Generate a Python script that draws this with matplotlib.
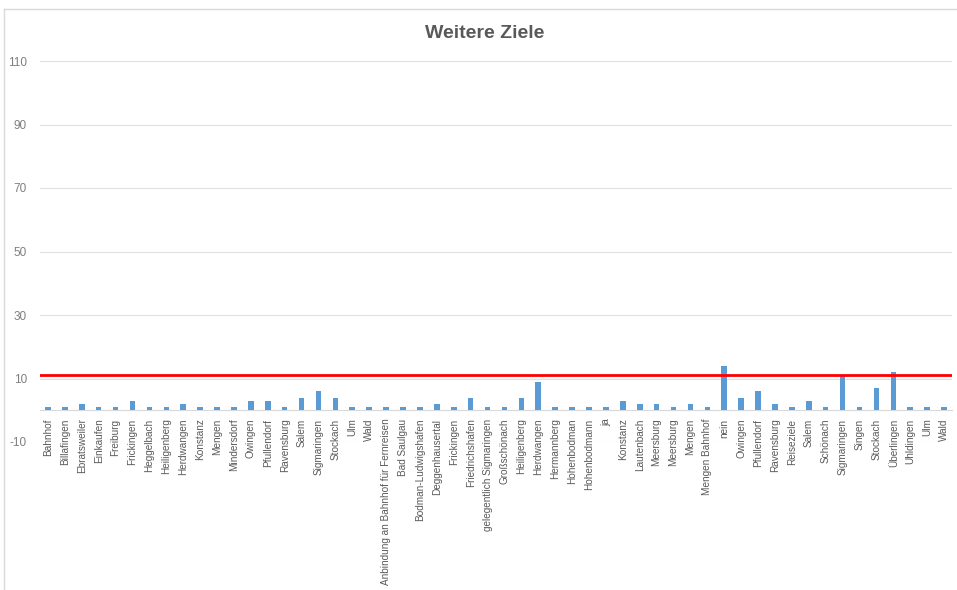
"""Weitere Ziele - Balkendiagramm mit roter Referenzlinie"""

import matplotlib
matplotlib.use('Agg')
import matplotlib.pyplot as plt
from matplotlib.lines import Line2D

# Kategorien (Antworten) und Anzahl
ziele = ['Bahnhof', 'Billafingen', 'Ebratsweiler', 'Einkaufen', 'Freiburg',
         'Frickingen', 'Heggelbach', 'Heiligenberg', 'Herdwangen', 'Konstanz',
         'Mengen', 'Mindersdorf', 'Owingen', 'Pfullendorf', 'Ravensburg',
         'Salem', 'Sigmaringen', 'Stockach', 'Ulm', 'Wald',
         'Anbindung an Bahnhof für Fernreisen', 'Bad Saulgau',
         'Bodman-Ludwigshafen', 'Deggenhausertal', 'Frickingen',
         'Friedrichshafen', 'gelegentlich Sigmaringen', 'Großschönach',
         'Heiligenberg', 'Herdwangen', 'Hermannberg', 'Hohenbodman',
         'Hohenbodmann', 'ja', 'Konstanz', 'Lautenbach', 'Meersburg',
         'Meersburg', 'Mengen', 'Mengen Bahnhof', 'nein', 'Owingen',
         'Pfullendorf', 'Ravensburg', 'Reiseziele', 'Salem', 'Schönach',
         'Sigmaringen', 'Singen', 'Stockach', 'Überlingen', 'Uhldingen',
         'Ulm', 'Wald']
anzahl = [1, 1, 2, 1, 1, 3, 1, 1, 2, 1,
          1, 1, 3, 3, 1, 4, 6, 4, 1, 1,
          1, 1, 1, 2, 1, 4, 1, 1, 4, 9,
          1, 1, 1, 1, 3, 2, 2, 1, 2, 1,
          14, 4, 6, 2, 1, 3, 1, 11, 1, 7,
          12, 1, 1, 1]
grenze = 11
y_ticks = [-10, 10, 30, 50, 70, 90, 110]

plt.rcParams['font.family'] = ['Liberation Sans', 'DejaVu Sans']

W, H = 957, 590
fig = plt.figure(figsize=(W / 100, H / 100), dpi=100)
ax = fig.add_axes([39.5 / W, 1 - 442 / H, 913 / W, 381 / H])

for s in ['top', 'right', 'left']:
    ax.spines[s].set_visible(False)
ax.spines['bottom'].set_position(('data', 0))
ax.spines['bottom'].set_color('#D9D9D9')
ax.spines['bottom'].set_linewidth(0.8)

x = list(range(len(ziele)))
ax.bar(x, anzahl, width=0.33, color='#5B9BD5', zorder=3)
ax.axhline(grenze, color='#FF0000', linewidth=2, zorder=4)

ax.set_xlim(-0.5, len(ziele) - 0.5)
ax.set_ylim(-10, 110)
ax.set_yticks(y_ticks)
ax.set_yticklabels([str(t) for t in y_ticks], fontsize=8.5, color='#7F7F7F')
ax.grid(axis='y', color='#E0E0E0', linewidth=0.8, zorder=0)

ax.set_xticks(x)
ax.set_xticklabels(ziele, rotation=90, fontsize=7.2, color='#595959')
ax.tick_params(axis='both', length=0)
ax.tick_params(axis='x', pad=6)
ax.tick_params(axis='y', pad=9)

fig.text(485 / W, 1 - 33 / H, 'Weitere Ziele', ha='center', va='center',
         fontsize=14, fontweight='bold', color='#595959')

# Rahmen des Diagrammbereichs
fig.add_artist(Line2D([4 / W, 4 / W], [0, 1 - 9 / H], transform=fig.transFigure,
                      color='#D9D9D9', linewidth=1))
fig.add_artist(Line2D([4 / W, 1], [1 - 9 / H, 1 - 9 / H], transform=fig.transFigure,
                      color='#D9D9D9', linewidth=1))

fig.savefig('out.png', dpi=100)
